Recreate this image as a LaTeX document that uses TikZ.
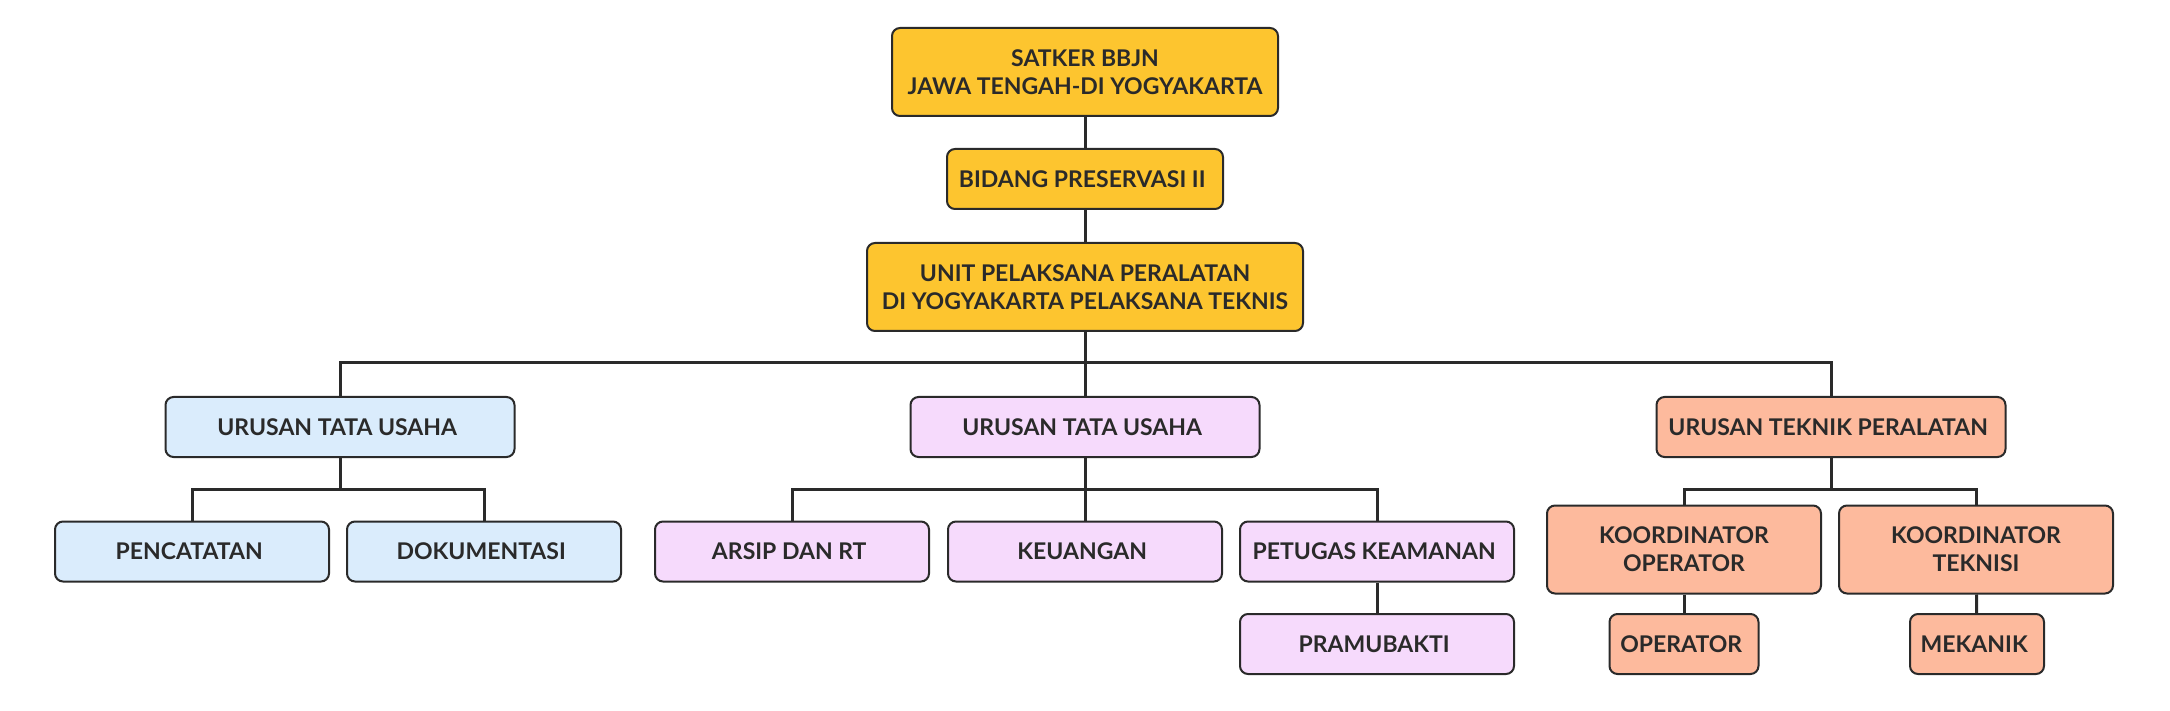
\documentclass[tikz,border=0pt]{standalone}
\usepackage{fontspec}
\setmainfont{Lato}
\usepackage{tikz}
\usetikzlibrary{positioning}

\definecolor{kuning}{RGB}{253,197,47}
\definecolor{biru}{RGB}{218,236,252}
\definecolor{ungu}{RGB}{246,218,252}
\definecolor{jingga}{RGB}{253,186,157}
\definecolor{garis}{RGB}{42,42,42}

\begin{document}
\begin{tikzpicture}[x=0.5pt, y=-0.5pt,
	kotak/.style = { draw=garis, line width=1pt, rounded corners=4pt,
		align=center, text=garis, font=\bfseries\fontsize{11.5}{14}\selectfont,
		inner sep=0pt, minimum height=30pt },
	dua/.style = { minimum height=44pt },
	daun/.style = { kotak, minimum width=137pt },
	urusan/.style = { kotak, minimum width=174.5pt },
	hubung/.style = { draw=garis, line width=1.5pt }
	]
	\useasboundingbox (0,0) rectangle (2170,711);

	% pimpinan
	\node [kotak, dua, fill=kuning, minimum width=193pt] (satker) at (1085,72)
		{ SATKER BBJN \\ JAWA TENGAH-DI YOGYAKARTA };
	\node [kotak, fill=kuning, minimum width=138pt] (bidang) at (1085,179)
		{ BIDANG PRESERVASI II };
	\node [kotak, dua, fill=kuning, minimum width=218pt] (unit) at (1085,287)
		{ UNIT PELAKSANA PERALATAN \\ DI YOGYAKARTA PELAKSANA TEKNIS };

	% urusan
	\node [urusan, fill=biru] (tu) at (340,427) { URUSAN TATA USAHA };
	\node [urusan, fill=ungu] (tu2) at (1085,427) { URUSAN TATA USAHA };
	\node [urusan, fill=jingga] (teknik) at (1831,427) { URUSAN TEKNIK PERALATAN };

	% bawahan
	\node [daun, fill=biru] (catat) at (192,551.5) { PENCATATAN };
	\node [daun, fill=biru] (doku) at (484,551.5) { DOKUMENTASI };
	\node [daun, fill=ungu] (arsip) at (792,551.5) { ARSIP DAN RT };
	\node [daun, fill=ungu] (uang) at (1085,551.5) { KEUANGAN };
	\node [daun, fill=ungu] (petugas) at (1377,551.5) { PETUGAS KEAMANAN };
	\node [daun, fill=ungu] (pramu) at (1377,644) { PRAMUBAKTI };
	\node [daun, dua, fill=jingga] (koorop) at (1684,549.5)
		{ KOORDINATOR \\ OPERATOR };
	\node [daun, dua, fill=jingga] (koortek) at (1976,549.5)
		{ KOORDINATOR \\ TEKNISI };
	\node [kotak, fill=jingga, minimum width=74.5pt] (oper) at (1684,644) { OPERATOR };
	\node [kotak, fill=jingga, minimum width=67pt] (mekanik) at (1977,644) { MEKANIK };

	\coordinate (bus) at (1085,363);
	\coordinate (b1) at (340,489);
	\coordinate (b2) at (1085,489);
	\coordinate (b3) at (1831,489);

	\draw [hubung] (satker) to (bidang);
	\draw [hubung] (bidang) to (unit);
	\draw [hubung] (unit) -- (bus) -| (tu);
	\draw [hubung] (bus) -| (teknik);
	\draw [hubung] (bus) -- (tu2);
	\draw [hubung] (tu) -- (b1) -| (catat);
	\draw [hubung] (b1) -| (doku);
	\draw [hubung] (tu2) -- (b2) -| (arsip);
	\draw [hubung] (b2) -| (petugas);
	\draw [hubung] (b2) -- (uang);
	\draw [hubung] (petugas) to (pramu);
	\draw [hubung] (teknik) -- (b3) -| (koorop);
	\draw [hubung] (b3) -| (koortek);
	\draw [hubung] (koorop) to (oper);
	\draw [hubung] (koortek) to (mekanik);
\end{tikzpicture}
\end{document}
